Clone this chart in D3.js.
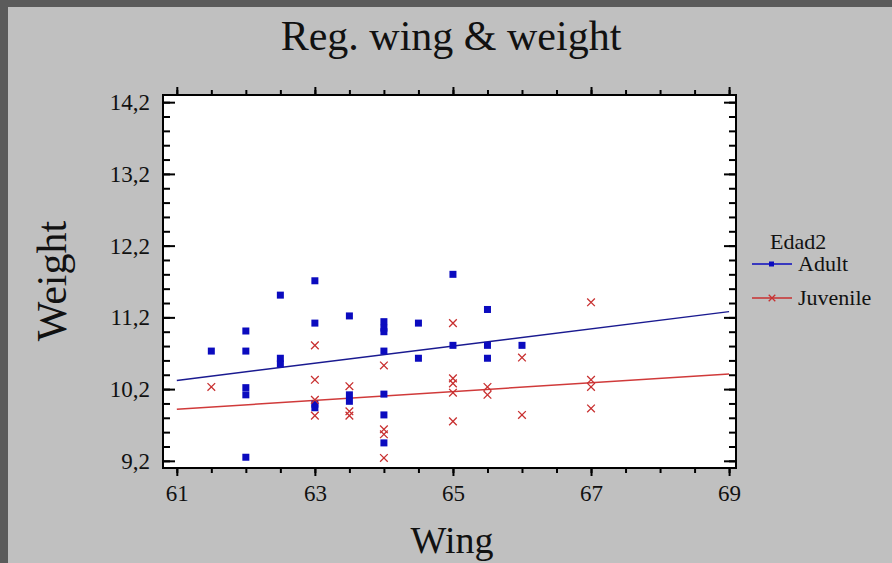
<!DOCTYPE html>
<html>
<head>
<meta charset="utf-8">
<script src="https://cdn.jsdelivr.net/npm/d3@7"></script>
<style>
  body { margin: 0; background: #c0c0c0; }
  svg { display: block; font-family: "Liberation Serif", "Times New Roman", serif; }
</style>
</head>
<body>
<svg width="892" height="563"></svg>
<script>
// wing (x) and weight (y) for each group
var adultWing   = [61.5, 62, 62, 62, 62, 62, 62.5, 62.5, 62.5, 63, 63, 63, 63, 63.5, 63.5, 63.5,
                   64, 64, 64, 64, 64, 64, 64, 64.5, 64.5, 65, 65, 65.5, 65.5, 65.5, 66];
var adultWeight = [10.73, 11.01, 10.73, 10.22, 10.12, 9.25, 11.51, 10.63, 10.55, 11.71, 11.12, 9.99, 9.94, 11.22, 10.12, 10.03,
                   11.14, 11.05, 11.0, 10.73, 10.13, 9.84, 9.45, 11.12, 10.63, 11.8, 10.81, 11.31, 10.81, 10.63, 10.81];

var juvWing   = [61.5, 63, 63, 63, 63, 63.5, 63.5, 63.5, 64, 64, 64, 64,
                 65, 65, 65, 65, 65, 65.5, 65.5, 66, 66, 67, 67, 67, 67];
var juvWeight = [10.23, 10.81, 10.33, 10.05, 9.83, 10.24, 9.89, 9.83, 10.53, 9.64, 9.57, 9.24,
                 11.12, 10.35, 10.28, 10.15, 9.75, 10.23, 10.12, 10.64, 9.84, 11.41, 10.33, 10.23, 9.93];

// fitted lines as drawn (wing 61 -> 69)
var fitWing = [61, 69];
var fitAdult = [10.32, 11.28];
var fitJuv = [9.92, 10.41];

var xTicks = [61, 63, 65, 67, 69];
var yTicks = [9.2, 10.2, 11.2, 12.2, 13.2, 14.2];
var groups = ["Adult", "Juvenile"];

var svg = d3.select("svg"),
    width = +svg.attr("width"),
    height = +svg.attr("height");

var blue = "#0b0bbf", red = "#c83030";

// dark frame top & left
svg.append("rect").attr("x", 0).attr("y", 0).attr("width", width).attr("height", 7).attr("fill", "#5b5b5b");
svg.append("rect").attr("x", 0).attr("y", 0).attr("width", 8).attr("height", height).attr("fill", "#5b5b5b");

var pLeft = 163, pTop = 95, pRight = 736, pBottom = 468;

var x = d3.scaleLinear().domain([60.8, 69.1]).range([pLeft, pRight]);
var y = d3.scaleLinear().domain([9.1, 14.3]).range([pBottom, pTop]);

svg.append("rect").attr("x", pLeft).attr("y", pTop)
   .attr("width", pRight - pLeft).attr("height", pBottom - pTop)
   .attr("fill", "#ffffff");

// axes: bottom/top ticks outward, left/right ticks inward
var fmt = function(d) { return d3.format(".1f")(d).replace(".", ","); };

var xMinor = d3.range(61, 69.01, 0.5);
var yMinor = d3.range(9.2, 14.21, 0.2);

function noDomain(g) { g.select(".domain").remove(); }

svg.append("g").attr("transform", "translate(0," + pBottom + ")")
  .call(d3.axisBottom(x).tickValues(xMinor).tickSize(5).tickFormat("")).call(noDomain);
svg.append("g").attr("class", "lab").attr("transform", "translate(0," + pBottom + ")")
  .call(d3.axisBottom(x).tickValues(xTicks).tickSize(8).tickPadding(9).tickFormat(d3.format("d")))
  .call(noDomain);

svg.append("g").attr("transform", "translate(0," + pTop + ")")
  .call(d3.axisTop(x).tickValues(xMinor).tickSize(5).tickFormat("")).call(noDomain);
svg.append("g").attr("transform", "translate(0," + pTop + ")")
  .call(d3.axisTop(x).tickValues(xTicks).tickSize(8).tickFormat("")).call(noDomain);

svg.append("g").attr("transform", "translate(" + pLeft + ",0)")
  .call(d3.axisRight(y).tickValues(yMinor).tickSize(7).tickFormat("")).call(noDomain);
svg.append("g").attr("transform", "translate(" + pLeft + ",0)")
  .call(d3.axisRight(y).tickValues(yTicks).tickSize(12).tickFormat("")).call(noDomain);
svg.append("g").attr("class", "lab").attr("transform", "translate(" + pLeft + ",0)")
  .call(d3.axisLeft(y).tickValues(yTicks).tickSize(0).tickPadding(13).tickFormat(fmt)).call(noDomain);

svg.append("g").attr("transform", "translate(" + pRight + ",0)")
  .call(d3.axisLeft(y).tickValues(yMinor).tickSize(7).tickFormat("")).call(noDomain);
svg.append("g").attr("transform", "translate(" + pRight + ",0)")
  .call(d3.axisLeft(y).tickValues(yTicks).tickSize(12).tickFormat("")).call(noDomain);

svg.selectAll(".tick line").attr("stroke", "#000").attr("stroke-width", 2);
svg.selectAll(".lab .tick text").attr("fill", "#111").style("font-size", "23px")
   .style("font-family", "'Liberation Serif', serif");

svg.append("rect").attr("x", pLeft).attr("y", pTop)
   .attr("width", pRight - pLeft).attr("height", pBottom - pTop)
   .attr("fill", "none").attr("stroke", "#000").attr("stroke-width", 2);

// regression lines
var line = d3.line().x(function(d) { return x(d[0]); }).y(function(d) { return y(d[1]); });
svg.append("path").datum(d3.zip(fitWing, fitAdult)).attr("d", line)
   .attr("stroke", "#1a1a90").attr("stroke-width", 1.5).attr("fill", "none");
svg.append("path").datum(d3.zip(fitWing, fitJuv)).attr("d", line)
   .attr("stroke", "#d03a3a").attr("stroke-width", 1.5).attr("fill", "none");

// points
svg.append("g").selectAll("rect")
   .data(d3.zip(adultWing, adultWeight))
   .enter().append("rect")
   .attr("x", function(d) { return x(d[0]) - 3.5; })
   .attr("y", function(d) { return y(d[1]) - 3.5; })
   .attr("width", 7).attr("height", 7)
   .attr("fill", blue);

var cross = d3.symbol().type(d3.symbolX).size(40);
svg.append("g").selectAll("path")
   .data(d3.zip(juvWing, juvWeight))
   .enter().append("path")
   .attr("transform", function(d) { return "translate(" + x(d[0]) + "," + y(d[1]) + ")"; })
   .attr("d", cross)
   .attr("stroke", red).attr("stroke-width", 1.3).attr("fill", "none");

// titles
svg.append("text").attr("x", 451).attr("y", 50).attr("text-anchor", "middle")
   .style("font-size", "42px").attr("fill", "#111").text("Reg. wing & weight");
svg.append("text").attr("x", 452).attr("y", 553).attr("text-anchor", "middle")
   .style("font-size", "38px").attr("fill", "#111").text("Wing");
svg.append("text").attr("transform", "translate(66,281) rotate(-90)").attr("text-anchor", "middle")
   .style("font-size", "42px").attr("fill", "#111").text("Weight");

// legend
var leg = svg.append("g").attr("transform", "translate(752,0)");
leg.append("text").attr("x", 18).attr("y", 249).style("font-size", "22px").attr("fill", "#111").text("Edad2");
var colors = [blue, red];
groups.forEach(function(name, i) {
  var yy = 264 + i * 34;
  leg.append("line").attr("x1", 0).attr("x2", 40).attr("y1", yy).attr("y2", yy)
     .attr("stroke", colors[i]).attr("stroke-width", 1.5);
  if (i === 0) {
    leg.append("rect").attr("x", 17).attr("y", yy - 2.5).attr("width", 5).attr("height", 5).attr("fill", blue);
  } else {
    leg.append("path").attr("transform", "translate(20," + yy + ")")
       .attr("d", d3.symbol().type(d3.symbolX).size(30))
       .attr("stroke", red).attr("stroke-width", 1.3).attr("fill", "none");
  }
  leg.append("text").attr("x", 46).attr("y", yy + 7).style("font-size", "22px").attr("fill", "#111").text(name);
});
</script>
</body>
</html>
